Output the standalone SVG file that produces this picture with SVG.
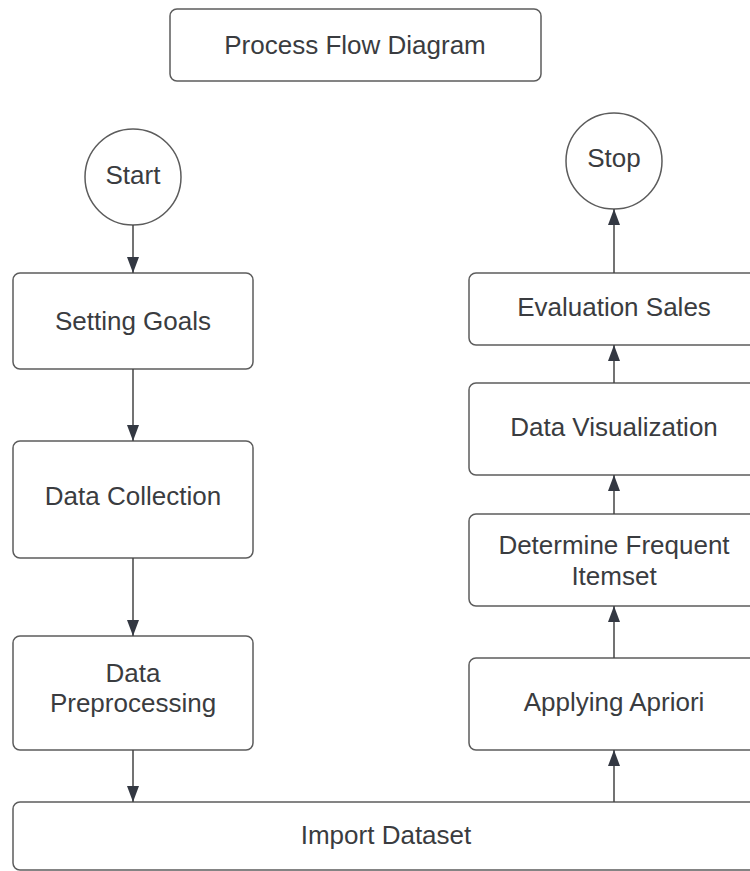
<svg xmlns="http://www.w3.org/2000/svg" width="750" height="871" viewBox="0 0 750 871">
<defs>
<marker id="ah" viewBox="0 0 16 12" refX="16" refY="6" markerWidth="16" markerHeight="12" markerUnits="userSpaceOnUse" orient="auto">
<path d="M0,0 L16,6 L0,12 Z" fill="#333842"/>
</marker>
<style>
.box{fill:#ffffff;stroke:#5c5c5c;stroke-width:1.5}
.t{font-family:"Liberation Sans",Arial,sans-serif;font-size:26px;fill:#3a3c40;text-anchor:middle}
.c{stroke:#444;stroke-width:1.5;fill:none;marker-end:url(#ah)}
</style>
</defs>
<rect width="750" height="871" fill="#ffffff"/>
<g id="title"><rect class="box" x="170" y="9" width="371" height="72" rx="7"/><text class="t" x="355" y="54">Process Flow Diagram</text></g>
<g id="start"><circle class="box" cx="133" cy="177" r="48"/><text class="t" x="133" y="184">Start</text></g>
<g id="setting-goals"><rect class="box" x="13" y="273" width="240" height="96" rx="7"/><text class="t" x="133" y="330">Setting Goals</text></g>
<g id="data-collection"><rect class="box" x="13" y="441" width="240" height="117" rx="7"/><text class="t" x="133" y="505">Data Collection</text></g>
<g id="data-preprocessing"><rect class="box" x="13" y="636" width="240" height="114" rx="7"/><text class="t" x="133" y="682">Data</text><text class="t" x="133" y="712">Preprocessing</text></g>
<g id="import-dataset"><rect class="box" x="13" y="802" width="750" height="68" rx="7"/><text class="t" x="386" y="844">Import Dataset</text></g>
<g id="stop"><circle class="box" cx="614" cy="161" r="48"/><text class="t" x="614" y="167">Stop</text></g>
<g id="evaluation-sales"><rect class="box" x="469" y="273" width="290" height="72" rx="7"/><text class="t" x="614" y="316">Evaluation Sales</text></g>
<g id="data-visualization"><rect class="box" x="469" y="383" width="290" height="92" rx="7"/><text class="t" x="614" y="436">Data Visualization</text></g>
<g id="determine-frequent-itemset"><rect class="box" x="469" y="514" width="290" height="92" rx="7"/><text class="t" x="614" y="554">Determine Frequent</text><text class="t" x="614" y="585">Itemset</text></g>
<g id="applying-apriori"><rect class="box" x="469" y="658" width="290" height="92" rx="7"/><text class="t" x="614" y="711">Applying Apriori</text></g>
<g id="connectors">
<line class="c" x1="133" y1="225" x2="133" y2="273"/>
<line class="c" x1="133" y1="369" x2="133" y2="441"/>
<line class="c" x1="133" y1="558" x2="133" y2="636"/>
<line class="c" x1="133" y1="750" x2="133" y2="802"/>
<line class="c" x1="614" y1="802" x2="614" y2="750"/>
<line class="c" x1="614" y1="658" x2="614" y2="606"/>
<line class="c" x1="614" y1="514" x2="614" y2="475"/>
<line class="c" x1="614" y1="383" x2="614" y2="345"/>
<line class="c" x1="614" y1="273" x2="614" y2="209"/>
</g>
</svg>
